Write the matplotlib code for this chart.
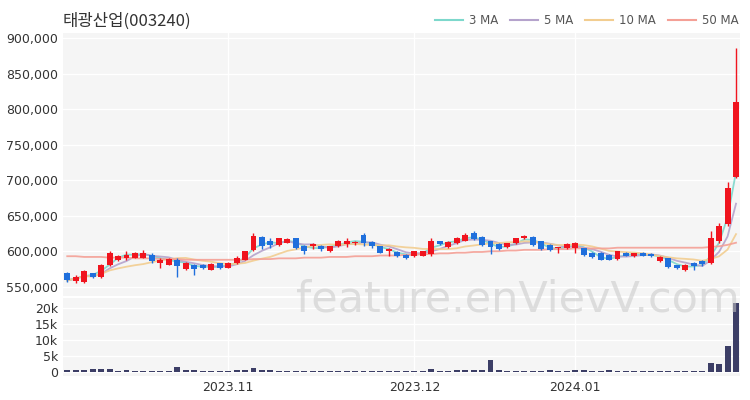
import numpy as np
import pandas as pd
import matplotlib
matplotlib.use('Agg')
import matplotlib.pyplot as plt
from matplotlib.lines import Line2D

plt.rcParams['font.family'] = ['DejaVu Sans', 'Noto Sans CJK KR']

### Data (prices in thousand won, volume in thousand shares)
holidays = ['2023-10-09', '2023-12-25', '2023-12-29', '2024-01-01']
dates = pd.bdate_range('2023-10-04', '2024-01-29')
dates = dates[~dates.isin(pd.to_datetime(holidays))]

opens = [569, 558, 557, 569, 564, 580, 587, 590, 591, 591,
         595, 584, 581, 588, 575, 581, 581, 574, 583, 577,
         583, 588, 602, 620, 614, 609, 612, 618, 608, 607,
         607, 600, 607, 610, 611, 623, 613, 607, 600, 599,
         595, 593, 594, 596, 614, 606, 611, 615, 626, 620,
         614, 610, 606, 611, 619, 620, 614, 609, 604, 604,
         605, 604, 597, 597, 595, 589, 598, 593, 597, 596,
         586, 590, 580, 574, 584, 586, 583, 614, 638, 704]
highs = [571, 566, 573, 570, 582, 600, 595, 601, 599, 602,
         598, 590, 591, 590, 585, 582, 582, 583, 584, 585,
         593, 601, 626, 621, 618, 619, 619, 619, 609, 612,
         609, 608, 616, 618, 615, 625, 614, 608, 604, 600,
         596, 601, 601, 618, 615, 614, 620, 625, 629, 621,
         615, 611, 611, 619, 623, 621, 615, 610, 606, 611,
         613, 605, 599, 599, 596, 601, 599, 598, 599, 597,
         593, 591, 581, 582, 585, 587, 628, 640, 698, 886]
lows = [557, 555, 556, 563, 563, 579, 586, 587, 590, 590,
        584, 576, 580, 564, 574, 567, 575, 573, 575, 576,
        582, 587, 601, 603, 605, 608, 611, 603, 596, 603,
        601, 599, 606, 606, 609, 608, 604, 597, 594, 592,
        589, 592, 593, 594, 609, 605, 610, 614, 616, 608,
        596, 602, 605, 610, 617, 608, 602, 600, 598, 603,
        598, 594, 590, 587, 587, 588, 593, 592, 593, 592,
        585, 577, 575, 572, 574, 579, 582, 612, 636, 703]
closes = [559, 564, 572, 564, 581, 598, 593, 595, 597, 597,
          586, 588, 589, 579, 584, 575, 576, 582, 576, 584,
          590, 600, 622, 607, 609, 618, 617, 604, 600, 610,
          603, 607, 615, 615, 613, 612, 608, 598, 603, 593,
          591, 600, 600, 615, 610, 613, 619, 623, 617, 609,
          606, 603, 611, 618, 621, 609, 603, 602, 606, 610,
          612, 595, 592, 588, 588, 600, 594, 597, 594, 593,
          592, 578, 576, 581, 579, 582, 618, 636, 689, 810]
volumes = [0.5, 0.5, 0.5, 0.9, 1.0, 0.8, 0.4, 0.5, 0.3, 0.3,
           0.3, 0.3, 0.3, 1.5, 0.6, 0.7, 0.3, 0.3, 0.3, 0.3,
           0.5, 0.6, 1.2, 0.6, 0.5, 0.3, 0.2, 0.4, 0.4, 0.3,
           0.2, 0.4, 0.4, 0.2, 0.3, 0.3, 0.2, 0.4, 0.4, 0.4,
           0.3, 0.3, 0.2, 0.8, 0.3, 0.2, 0.5, 0.5, 0.5, 0.6,
           3.7, 0.5, 0.3, 0.4, 0.4, 0.4, 0.3, 0.7, 0.2, 0.2,
           0.6, 0.6, 0.4, 0.4, 0.5, 0.2, 0.2, 0.2, 0.2, 0.3,
           0.4, 0.2, 0.2, 0.2, 0.2, 0.3, 2.8, 2.5, 8.2, 21.5]
# 50 MA (needs history before the window)
ma50 = [593, 593, 592, 592, 592, 591, 591, 591, 590, 590,
        590, 589, 589, 589, 588, 588, 588, 588, 588, 588,
        588, 588, 589, 589, 589, 590, 590, 590, 591, 591,
        591, 592, 592, 592, 593, 593, 593, 594, 594, 594,
        595, 595, 596, 596, 597, 597, 598, 598, 599, 599,
        600, 600, 601, 601, 602, 602, 602, 603, 603, 603,
        604, 604, 604, 604, 604, 605, 605, 605, 605, 605,
        605, 605, 605, 605, 605, 605, 606, 607, 609, 612]

df = pd.DataFrame({'open': opens, 'high': highs, 'low': lows, 'close': closes,
                   'volume': volumes, 'ma50': ma50}, index=dates)
df[['open', 'high', 'low', 'close', 'ma50']] *= 1000
df['volume'] *= 1000
for n in [3, 5, 10]:
    df['ma%d' % n] = df['close'].rolling(n, min_periods=1).mean()

x = np.arange(len(df))
up = df['close'] >= df['open']
red = '#f0141e'
blue = '#1f6fdc'
colors = np.where(up, red, blue)

fig = plt.figure(figsize=(7.5, 4), dpi=100)
ax = fig.add_axes([0.084, 0.26, 0.903, 0.657])
axv = fig.add_axes([0.084, 0.06, 0.903, 0.195])

for a in [ax, axv]:
    a.set_facecolor('#f5f5f5')
    for s in a.spines.values():
        s.set_visible(False)
    a.grid(True, color='white', linewidth=1.0)
    a.set_axisbelow(True)
    a.tick_params(length=0, labelsize=9, colors='#333333')
    a.set_xlim(-0.5, len(df) - 0.5)

# candles
ax.vlines(x, df['low'], df['high'], color=colors, linewidth=1.0, zorder=3)
ax.bar(x, (df['close'] - df['open']).abs().clip(lower=800),
       bottom=np.minimum(df['open'], df['close']), width=0.7,
       color=colors, zorder=4)

ma_cols = {'ma3': '#7dd8cc', 'ma5': '#b5a3cc', 'ma10': '#f2cd90', 'ma50': '#f4a096'}
for k, c in ma_cols.items():
    ax.plot(x, df[k], color=c, linewidth=1.3, alpha=0.9, zorder=2)

ax.set_ylim(537000, 907000)
ax.set_yticks(np.arange(550000, 900001, 50000))
ax.yaxis.set_major_formatter(matplotlib.ticker.FuncFormatter(lambda v, p: '{:,.0f}'.format(v)))

# month ticks at first trading day of each month
months = df.index.to_period('M')
first = [i for i in range(1, len(df)) if months[i] != months[i - 1]]
tick_labels = [df.index[i].strftime('%Y.%m') for i in first]
ax.set_xticks(first)
ax.set_xticklabels([])
axv.set_xticks(first)
axv.set_xticklabels(tick_labels)

axv.bar(x, df['volume'], width=0.7, color='#3c3e66', zorder=3)
axv.set_ylim(-1300, 23100)
axv.set_yticks([0, 5000, 10000, 15000, 20000])
axv.set_yticklabels(['0', '5k', '10k', '15k', '20k'])

fig.text(0.084, 0.948, '태광산업(003240)', fontsize=12, color='#333333',
         family=['Noto Sans CJK KR', 'DejaVu Sans'], va='center')

handles = [Line2D([], [], color=c, linewidth=1.5) for c in ma_cols.values()]
fig.legend(handles, ['3 MA', '5 MA', '10 MA', '50 MA'], loc='center right',
           bbox_to_anchor=(0.985, 0.948), ncol=4, frameon=False, fontsize=8.5,
           handlelength=2.4, columnspacing=1.0, handletextpad=0.5,
           labelcolor='#555555', borderaxespad=0, borderpad=0)

fig.text(0.69, 0.252, 'feature.enVievV.com', fontsize=31, color='#c8c8c8',
         alpha=0.55, ha='center', va='center', zorder=10)

plt.savefig('out.png', dpi=100)
plt.close()
